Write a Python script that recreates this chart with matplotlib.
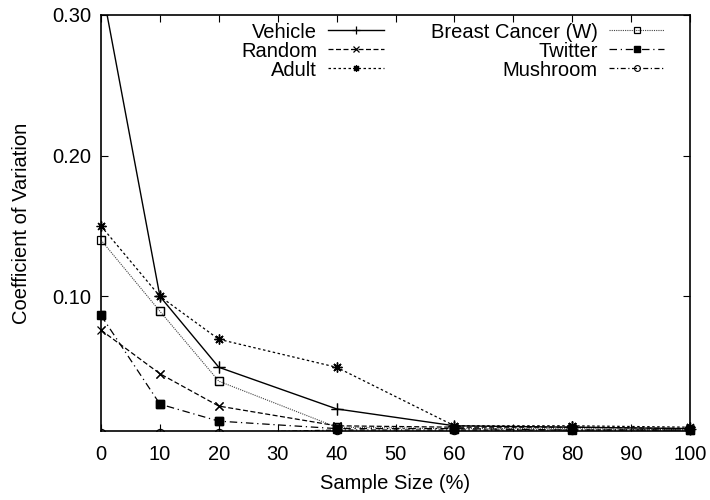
import matplotlib
matplotlib.use("Agg")
import matplotlib.pyplot as plt
import numpy as np
from matplotlib.ticker import FormatStrFormatter

plt.rcParams["font.family"] = ["Liberation Sans", "DejaVu Sans"]
plt.rcParams["font.size"] = 14.5

sample_size = [0, 10, 20, 40, 60, 80, 100]
vehicle = [0.323, 0.100, 0.0496, 0.020, 0.008, 0.007, 0.006]
random_ = [0.076, 0.045, 0.022, 0.008, 0.007, 0.007, 0.006]
adult = [0.150, 0.100, 0.0695, 0.0496, 0.008, 0.008, 0.007]
breast = [0.140, 0.0894, 0.0397, 0.007, 0.006, 0.006, 0.005]
twitter = [0.0865, 0.0234, 0.0113, 0.006, 0.006, 0.005, 0.005]
mushroom = [0.003, 0.003, 0.003, 0.005, 0.005, 0.005, 0.005]
labels = ["Vehicle", "Random", "Adult", "Breast Cancer (W)", "Twitter", "Mushroom"]
yticks = [0.10, 0.20, 0.30]
xticks = list(range(0, 101, 10))

YMIN, YMAX = 0.0043, 0.30

fig = plt.figure(figsize=(7.1, 5.0), dpi=100)
ax = fig.add_axes([0.1423, 0.138, 0.8295, 0.832])

asterisk = (8, 2, 0)
styles = [
    dict(color="black", lw=1.0, ls="-", marker="+", ms=8, mew=0.9),
    dict(color="black", lw=0.9, ls=(0, (4, 2)), marker="x", ms=6, mew=0.9),
    dict(color="black", lw=0.9, ls=(0, (2, 2)), marker=asterisk, ms=7, mew=0.9),
    dict(color="#444444", lw=0.8, ls=(0, (1, 1)), marker="s", ms=6, mfc="none", mec="black", mew=0.9),
    dict(color="black", lw=0.9, ls=(0, (6, 3, 1, 3)), marker="s", ms=6, mfc="black", mec="black"),
    dict(color="black", lw=0.9, ls=(0, (4, 2, 1, 2)), marker="o", ms=6, mfc="none", mec="black", mew=0.8),
]
series = [vehicle, random_, adult, breast, twitter, mushroom]

x = np.array(sample_size)
for vals, lab, st in zip(series, labels, styles):
    y = np.array(vals)
    ax.plot(x, y, label=lab, **st)
    # gnuplot draws in-range points unclipped
    m = (y >= YMIN) & (y <= YMAX)
    st2 = {k: v for k, v in st.items() if k not in ("ls", "lw")}
    ax.plot(x[m], y[m], ls="none", clip_on=False, **st2)

ax.set_xlim(0, 100)
ax.set_ylim(YMIN, YMAX)
ax.set_xticks(xticks)
ax.set_yticks(yticks)
ax.yaxis.set_major_formatter(FormatStrFormatter("%.2f"))
ax.tick_params(direction="in", top=True, right=True, length=5, width=0.8, labelsize=14.5, pad=7)
ax.tick_params(axis="x", pad=10)
for s in ax.spines.values():
    s.set_linewidth(1.2)

ax.set_xlabel("Sample Size (%)", fontsize=14.5, labelpad=7)
ax.set_ylabel("Coefficient of Variation", fontsize=14.5, labelpad=15)

leg = ax.legend(ncol=2, loc="upper right", bbox_to_anchor=(0.977, 1.011), frameon=False,
                markerfirst=False, handlelength=2.75, handletextpad=0.55, labelspacing=0.0,
                columnspacing=2.35, borderaxespad=0.2, fontsize=14.5, markerscale=0.7)
for col in leg._legend_handle_box.get_children():
    col.align = "right"

fig.savefig("out.png", dpi=100)
